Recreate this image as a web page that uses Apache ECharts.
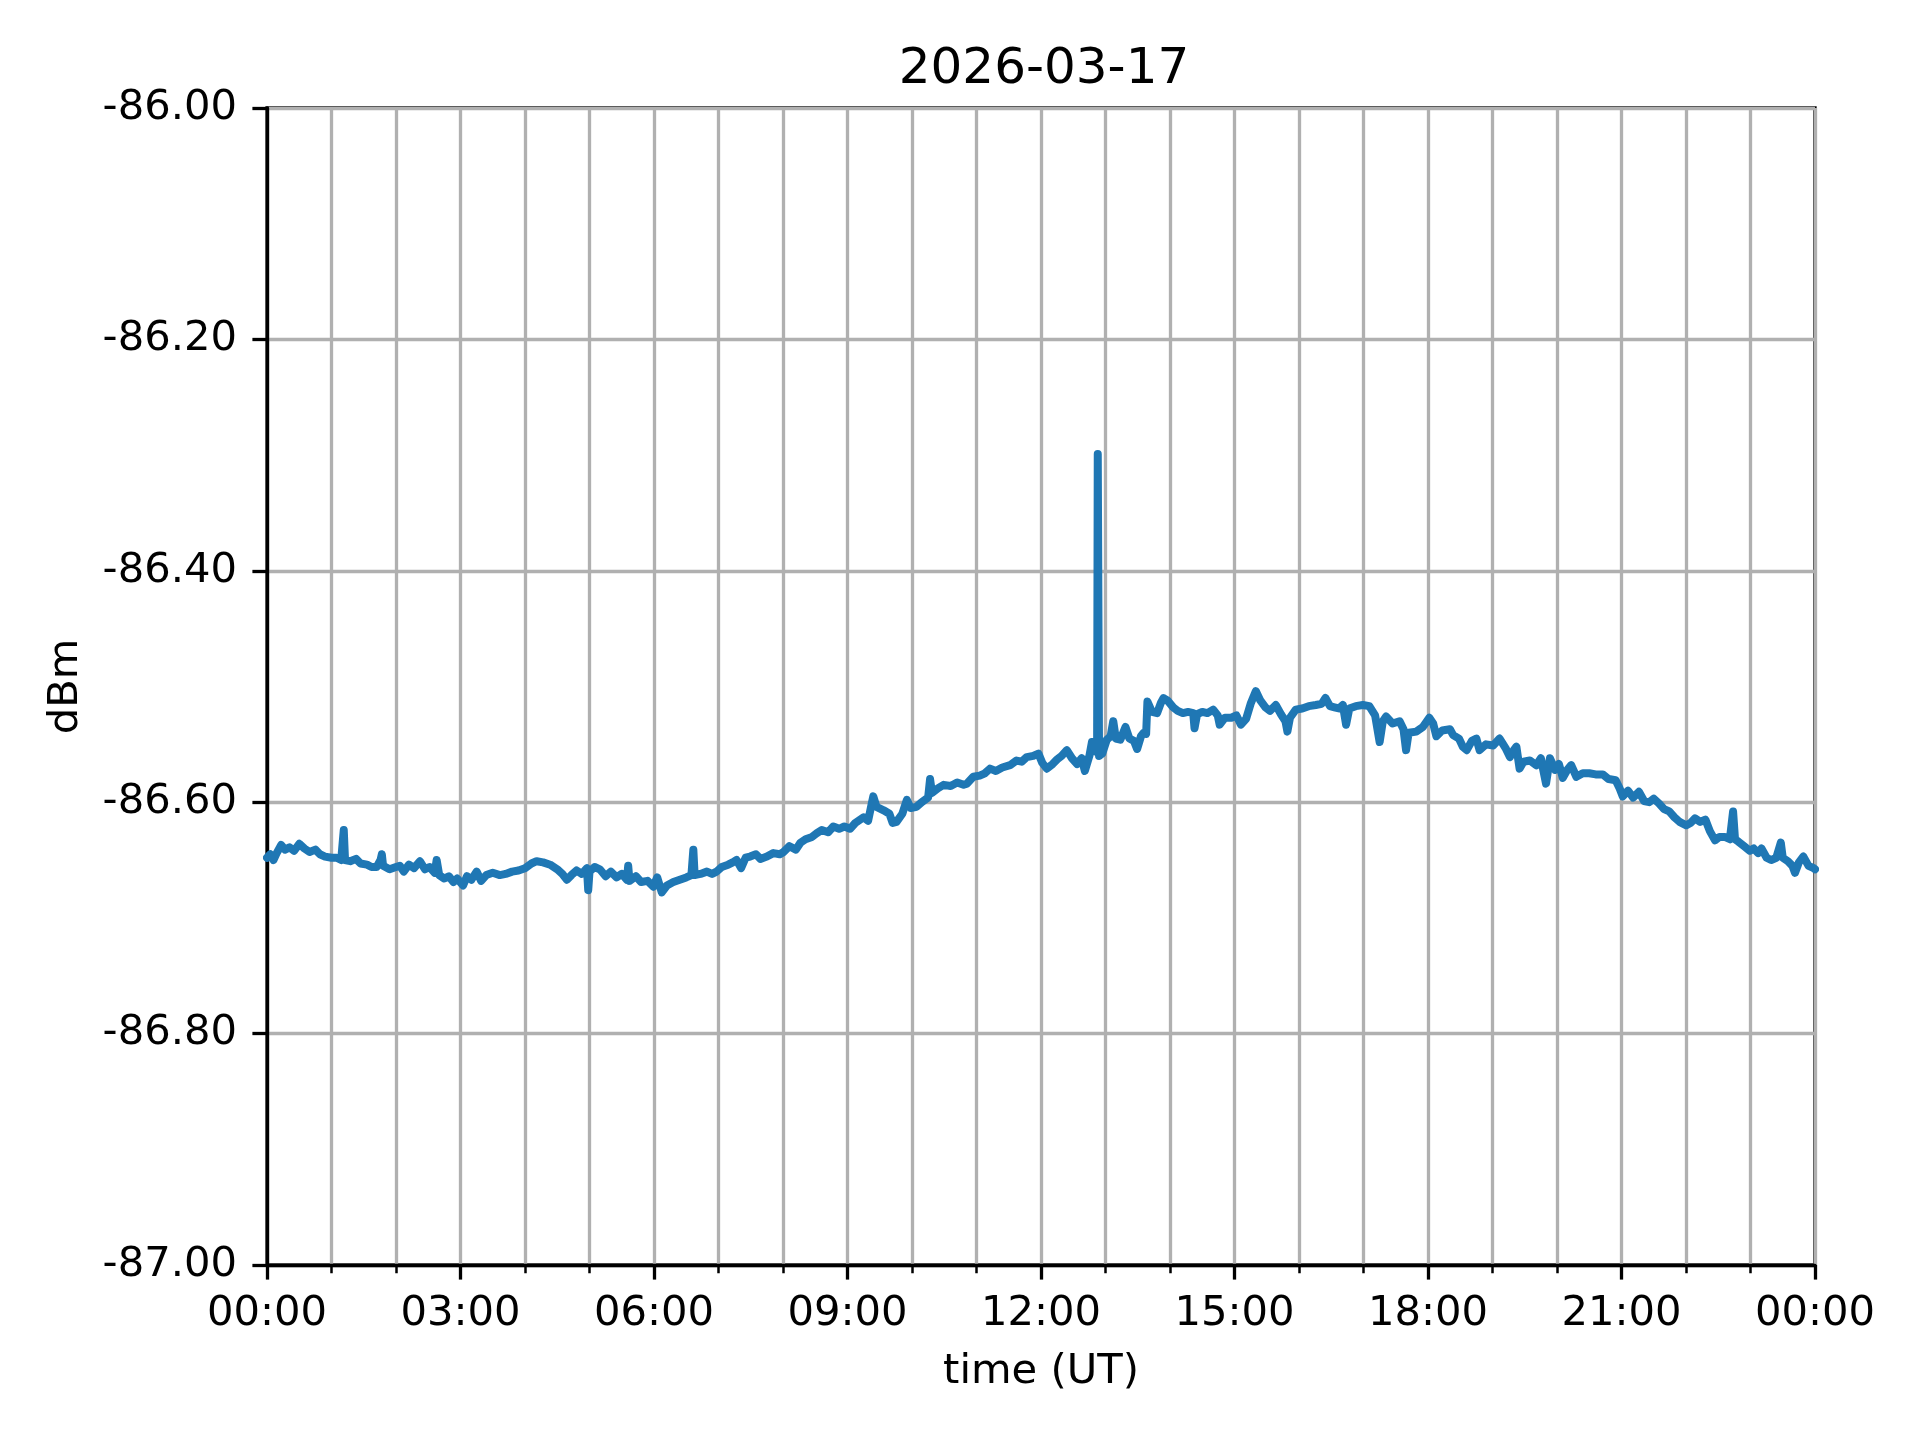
<!DOCTYPE html>
<html>
<head>
<meta charset="utf-8">
<script src="https://cdn.jsdelivr.net/npm/echarts@6/dist/echarts.min.js"></script>
<style>
html,body{margin:0;padding:0;background:#fff;}
#chart{width:1920px;height:1440px;}
</style>
</head>
<body>
<div id="chart"></div>
<script>
const titleText = '2026-03-17';
const xAxisName = 'time (UT)';
const yAxisName = 'dBm';
const yTicks = [-87.0, -86.8, -86.6, -86.4, -86.2, -86.0];
const xTickHours = [0, 3, 6, 9, 12, 15, 18, 21, 24];

const hours = [
0.00,0.05,0.10,0.15,0.22,0.28,0.35,0.42,0.50,0.58,0.66,0.75,0.82,0.90,1.00,1.08,1.15,1.19,1.21,1.29,
1.38,1.45,1.55,1.62,1.70,1.76,1.78,1.80,1.90,2.00,2.06,2.12,2.20,2.28,2.37,2.45,2.52,2.60,2.63,2.67,
2.75,2.82,2.89,2.95,3.04,3.10,3.17,3.25,3.32,3.40,3.50,3.61,3.70,3.80,3.90,4.00,4.10,4.18,4.28,4.39,
4.50,4.58,4.65,4.72,4.80,4.88,4.96,4.98,5.00,5.08,5.16,5.25,5.33,5.42,5.50,5.58,5.60,5.62,5.72,5.80,
5.90,5.99,6.05,6.12,6.20,6.30,6.40,6.50,6.58,6.61,6.63,6.72,6.82,6.90,6.97,7.05,7.15,7.22,7.28,7.35,
7.42,7.49,7.58,7.65,7.75,7.85,7.95,8.01,8.10,8.20,8.27,8.35,8.45,8.52,8.60,8.70,8.78,8.87,8.95,9.04,
9.12,9.25,9.32,9.38,9.40,9.45,9.56,9.65,9.70,9.76,9.85,9.92,9.98,10.07,10.15,10.25,10.28,10.31,10.40,10.49,
10.60,10.70,10.80,10.85,10.95,11.05,11.13,11.21,11.30,11.40,11.52,11.62,11.70,11.78,11.88,11.96,12.02,12.09,12.18,12.25,
12.32,12.40,12.48,12.56,12.63,12.68,12.75,12.79,12.84,12.87,12.88,12.89,12.90,12.95,13.02,13.08,13.12,13.16,13.23,13.31,
13.37,13.44,13.49,13.55,13.59,13.63,13.65,13.72,13.80,13.86,13.90,13.96,14.05,14.12,14.20,14.28,14.36,14.38,14.42,14.50,
14.58,14.67,14.74,14.77,14.85,14.95,15.03,15.10,15.18,15.25,15.33,15.40,15.48,15.55,15.64,15.72,15.79,15.82,15.86,15.95,
16.05,16.15,16.26,16.35,16.41,16.48,16.55,16.62,16.68,16.73,16.78,16.88,16.99,17.09,17.18,17.25,17.30,17.35,17.45,17.56,
17.62,17.66,17.70,17.82,17.92,18.02,18.08,18.13,18.22,18.34,18.39,18.48,18.54,18.60,18.68,18.75,18.80,18.90,19.01,19.11,
19.20,19.27,19.33,19.37,19.42,19.48,19.58,19.68,19.75,19.83,19.89,19.97,20.03,20.09,20.16,20.22,20.30,20.40,20.50,20.60,
20.71,20.80,20.91,20.97,21.02,21.10,21.18,21.27,21.35,21.43,21.50,21.58,21.66,21.74,21.82,21.90,22.00,22.07,22.14,22.22,
22.30,22.37,22.45,22.52,22.60,22.68,22.73,22.76,22.81,22.90,22.99,23.05,23.12,23.17,23.25,23.32,23.40,23.47,23.50,23.58,
23.65,23.69,23.75,23.82,23.90,23.98,24.00
];

const dbm = [
-86.648,-86.645,-86.650,-86.644,-86.637,-86.641,-86.639,-86.642,-86.636,-86.640,-86.643,-86.641,-86.645,-86.647,-86.648,-86.648,-86.650,-86.624,-86.650,-86.651,
-86.649,-86.653,-86.654,-86.656,-86.656,-86.650,-86.645,-86.655,-86.658,-86.656,-86.655,-86.660,-86.654,-86.657,-86.651,-86.658,-86.656,-86.661,-86.650,-86.663,
-86.666,-86.664,-86.669,-86.666,-86.672,-86.664,-86.667,-86.660,-86.668,-86.663,-86.661,-86.663,-86.662,-86.660,-86.659,-86.657,-86.653,-86.651,-86.652,-86.654,
-86.658,-86.662,-86.667,-86.663,-86.659,-86.662,-86.657,-86.676,-86.660,-86.656,-86.658,-86.664,-86.660,-86.665,-86.662,-86.667,-86.655,-86.668,-86.664,-86.669,
-86.668,-86.673,-86.665,-86.678,-86.672,-86.669,-86.667,-86.665,-86.663,-86.641,-86.663,-86.662,-86.660,-86.662,-86.660,-86.656,-86.654,-86.652,-86.650,-86.657,
-86.648,-86.647,-86.645,-86.649,-86.647,-86.644,-86.645,-86.643,-86.638,-86.641,-86.635,-86.632,-86.630,-86.627,-86.624,-86.626,-86.621,-86.623,-86.621,-86.623,
-86.618,-86.613,-86.616,-86.600,-86.595,-86.604,-86.607,-86.610,-86.618,-86.617,-86.610,-86.598,-86.605,-86.604,-86.600,-86.596,-86.580,-86.592,-86.588,-86.585,
-86.586,-86.583,-86.585,-86.584,-86.578,-86.577,-86.575,-86.571,-86.573,-86.570,-86.568,-86.564,-86.565,-86.561,-86.560,-86.558,-86.566,-86.571,-86.567,-86.563,
-86.560,-86.555,-86.562,-86.567,-86.562,-86.573,-86.560,-86.548,-86.556,-86.553,-86.299,-86.300,-86.560,-86.558,-86.546,-86.543,-86.530,-86.545,-86.546,-86.535,
-86.545,-86.547,-86.554,-86.543,-86.540,-86.541,-86.513,-86.522,-86.523,-86.514,-86.510,-86.512,-86.518,-86.521,-86.523,-86.522,-86.523,-86.536,-86.524,-86.522,
-86.523,-86.520,-86.525,-86.533,-86.527,-86.527,-86.525,-86.533,-86.528,-86.515,-86.504,-86.512,-86.518,-86.521,-86.516,-86.524,-86.530,-86.539,-86.527,-86.520,
-86.519,-86.517,-86.516,-86.515,-86.510,-86.517,-86.518,-86.519,-86.516,-86.533,-86.519,-86.517,-86.516,-86.517,-86.525,-86.548,-86.530,-86.526,-86.532,-86.530,
-86.537,-86.555,-86.540,-86.539,-86.535,-86.527,-86.532,-86.543,-86.538,-86.537,-86.542,-86.545,-86.552,-86.555,-86.547,-86.545,-86.555,-86.550,-86.551,-86.545,
-86.553,-86.561,-86.555,-86.552,-86.571,-86.565,-86.564,-86.568,-86.562,-86.584,-86.562,-86.572,-86.567,-86.579,-86.572,-86.568,-86.578,-86.575,-86.575,-86.576,
-86.576,-86.580,-86.581,-86.588,-86.595,-86.590,-86.596,-86.591,-86.599,-86.600,-86.597,-86.601,-86.606,-86.608,-86.613,-86.617,-86.620,-86.618,-86.614,-86.617,
-86.615,-86.625,-86.633,-86.630,-86.630,-86.632,-86.608,-86.632,-86.634,-86.638,-86.642,-86.640,-86.644,-86.640,-86.648,-86.650,-86.648,-86.635,-86.648,-86.651,
-86.655,-86.661,-86.652,-86.647,-86.655,-86.657,-86.658
];

const seriesData = hours.map((h, i) => [h, dbm[i]]);

const FONT = 'DejaVu Sans';
const chart = echarts.init(document.getElementById('chart'), null, {renderer: 'canvas'});

function hhmm(v) {
  const h = Math.round(v) % 24;
  return (h < 10 ? '0' : '') + h + ':00';
}

chart.setOption({
  backgroundColor: '#ffffff',
  animation: false,
  title: {
    text: titleText,
    left: 1039,
    textAlign: 'center',
    top: 40,
    textStyle: {fontFamily: FONT, fontSize: 50, fontWeight: 'normal', color: '#000'}
  },
  grid: {
    left: 267, top: 108, width: 1548, height: 1157,
    show: true, borderColor: '#000', borderWidth: 3.3, backgroundColor: 'transparent'
  },
  xAxis: {
    type: 'value',
    min: xTickHours[0],
    max: xTickHours[xTickHours.length - 1],
    interval: 3,
    name: xAxisName,
    nameLocation: 'middle',
    nameGap: 86,
    nameTextStyle: {fontFamily: FONT, fontSize: 41.7, color: '#000'},
    axisLine: {show: true, onZero: false, lineStyle: {color: '#000', width: 3.3}},
    axisTick: {show: true, length: 14.6, lineStyle: {color: '#000', width: 3.3}},
    minorTick: {show: true, splitNumber: 3, length: 8.3, lineStyle: {color: '#000', width: 2.5}},
    axisLabel: {margin: 28, fontFamily: FONT, fontSize: 41.7, color: '#000', formatter: hhmm},
    splitLine: {show: true, lineStyle: {color: '#b0b0b0', width: 3.3}},
    minorSplitLine: {show: true, lineStyle: {color: '#b0b0b0', width: 3.3}}
  },
  yAxis: {
    type: 'value',
    min: yTicks[0],
    max: yTicks[yTicks.length - 1],
    interval: 0.2,
    name: yAxisName,
    nameLocation: 'middle',
    nameGap: 180,
    nameRotate: 90,
    nameTextStyle: {fontFamily: FONT, fontSize: 41.7, color: '#000'},
    axisLine: {show: true, onZero: false, lineStyle: {color: '#000', width: 3.3}},
    axisTick: {show: true, length: 14.6, lineStyle: {color: '#000', width: 3.3}},
    axisLabel: {margin: 30, fontFamily: FONT, fontSize: 41.7, color: '#000', formatter: v => v.toFixed(2)},
    splitLine: {show: true, lineStyle: {color: '#b0b0b0', width: 3.3}}
  },
  series: [{
    type: 'line',
    data: seriesData,
    showSymbol: false,
    symbol: 'none',
    lineStyle: {color: '#1f77b4', width: 8, join: 'round', cap: 'round'},
    z: 5
  }]
});
</script>
</body>
</html>
